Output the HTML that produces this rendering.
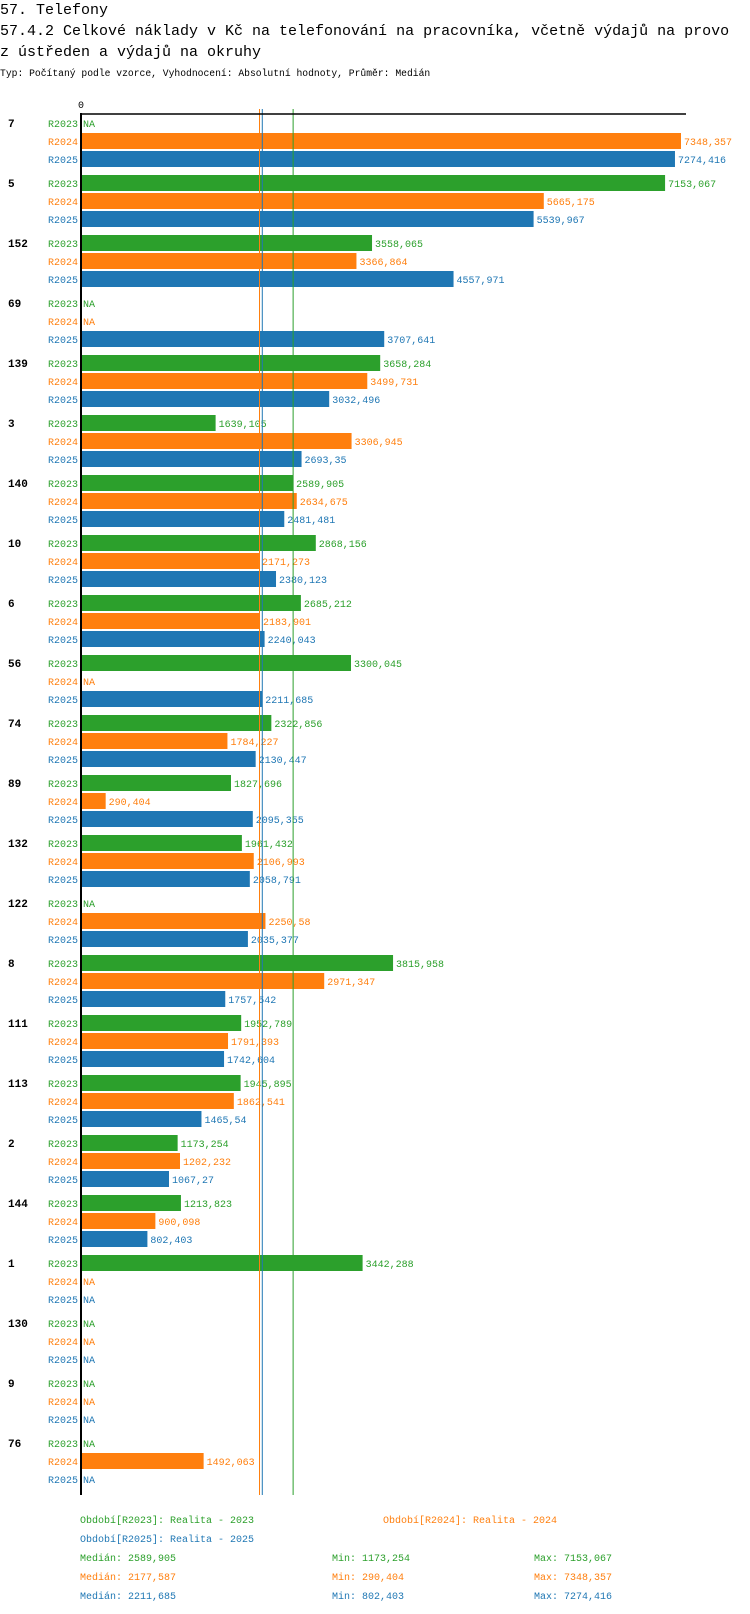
<!DOCTYPE html>
<html><head><meta charset="utf-8"><style>
body{margin:0;background:#fff;}
svg{display:block;font-family:"Liberation Mono",monospace;}
</style></head><body>
<svg id="chart" width="750" height="1614" xmlns="http://www.w3.org/2000/svg">
<text x="0" y="14" font-size="15" fill="#000">57. Telefony</text>
<text x="0" y="35" font-size="15" fill="#000">57.4.2 Celkové náklady v Kč na telefonování na pracovníka, včetně výdajů na provo</text>
<text x="0" y="56" font-size="15" fill="#000">z ústředen a výdajů na okruhy</text>
<text x="0" y="76" font-size="9.7" fill="#000">Typ: Počítaný podle vzorce, Vyhodnocení: Absolutní hodnoty, Průměr: Medián</text>
<g id="plot"></g>
<g id="legend" font-size="10">
<text x="80" y="1523" fill="#2ca02c">Období[R2023]: Realita - 2023</text>
<text x="383" y="1523" fill="#ff7f0e">Období[R2024]: Realita - 2024</text>
<text x="80" y="1542" fill="#1f77b4">Období[R2025]: Realita - 2025</text>
<text x="80" y="1561" fill="#2ca02c">Medián: 2589,905</text>
<text x="332" y="1561" fill="#2ca02c">Min: 1173,254</text>
<text x="534" y="1561" fill="#2ca02c">Max: 7153,067</text>
<text x="80" y="1580" fill="#ff7f0e">Medián: 2177,587</text>
<text x="332" y="1580" fill="#ff7f0e">Min: 290,404</text>
<text x="534" y="1580" fill="#ff7f0e">Max: 7348,357</text>
<text x="80" y="1599" fill="#1f77b4">Medián: 2211,685</text>
<text x="332" y="1599" fill="#1f77b4">Min: 802,403</text>
<text x="534" y="1599" fill="#1f77b4">Max: 7274,416</text>
</g>
</svg>
<script>
const categories = ["7","5","152","69","139","3","140","10","6","56","74","89","132","122","8","111","113","2","144","1","130","9","76"];
const seriesNames = ["R2023","R2024","R2025"];
const r2023 = [null,7153.067,3558.065,null,3658.284,1639.105,2589.905,2868.156,2685.212,3300.045,2322.856,1827.696,1961.432,null,3815.958,1952.789,1945.895,1173.254,1213.823,3442.288,null,null,null];
const r2024 = [7348.357,5665.175,3366.864,null,3499.731,3306.945,2634.675,2171.273,2183.901,null,1784.227,290.404,2106.993,2250.58,2971.347,1791.393,1862.541,1202.232,900.098,null,null,null,1492.063];
const r2025 = [7274.416,5539.967,4557.971,3707.641,3032.496,2693.35,2481.481,2380.123,2240.043,2211.685,2130.447,2095.355,2058.791,2035.377,1757.542,1742.604,1465.54,1067.27,802.403,null,null,null,null];
const medians = [2589.905,2177.587,2211.685];
const xMax = 7348.357;

const colors = ["#2ca02c","#ff7f0e","#1f77b4"];
const series = [r2023,r2024,r2025];
const NS = "http://www.w3.org/2000/svg";
const plot = document.getElementById("plot");
const x0 = 82, x1 = 681;
const xScale = v => x0 + v / xMax * (x1 - x0);
const groupY = i => 123 + i * 60;
const fmt = v => String(v).replace(".", ",");
function mk(tag, attrs, parent) {
  const e = document.createElementNS(NS, tag);
  for (const k in attrs) e.setAttribute(k, attrs[k]);
  parent.appendChild(e);
  return e;
}
categories.forEach((c, i) => {
  const gy = groupY(i);
  const t = mk("text", {x: 8, y: gy + 4, "font-size": 11, "font-weight": "bold", fill: "#000"}, plot);
  
  
  t.textContent = c;
  series.forEach((s, j) => {
    const y = gy + j * 18;
    const lab = mk("text", {x: 78, y: y + 4, "font-size": 10, "text-anchor": "end", fill: colors[j]}, plot);
    
    
    lab.textContent = seriesNames[j];
    const v = s[i];
    if (v === null) {
      const na = mk("text", {x: 83, y: y + 4, "font-size": 10, fill: colors[j]}, plot);
      
      
      na.textContent = "NA";
    } else {
      const xe = xScale(v);
      const r = mk("rect", {x: x0, y: y - 8, width: xe - x0, height: 16, fill: colors[j]}, plot);
      
      
      const vl = mk("text", {x: xe + 3, y: y + 4, "font-size": 10, fill: colors[j]}, plot);
      
      
      vl.textContent = fmt(v);
    }
  });
});
medians.forEach((m, j) => {
  const ln = mk("line", {x1: xScale(m), x2: xScale(m), y1: 109, y2: 1495, stroke: colors[j], "stroke-width": 1}, plot);
  
  
});
const ax = mk("line", {x1: 81, x2: 81, y1: 113, y2: 1495, stroke: "#000", "stroke-width": 2}, plot);


const tx = mk("line", {x1: 80, x2: 686, y1: 114, y2: 114, stroke: "#000", "stroke-width": 1.5}, plot);


const zero = mk("text", {x: 81, y: 108, "font-size": 10, "text-anchor": "middle", fill: "#000"}, plot);


zero.textContent = "0";
</script>
</body></html>
